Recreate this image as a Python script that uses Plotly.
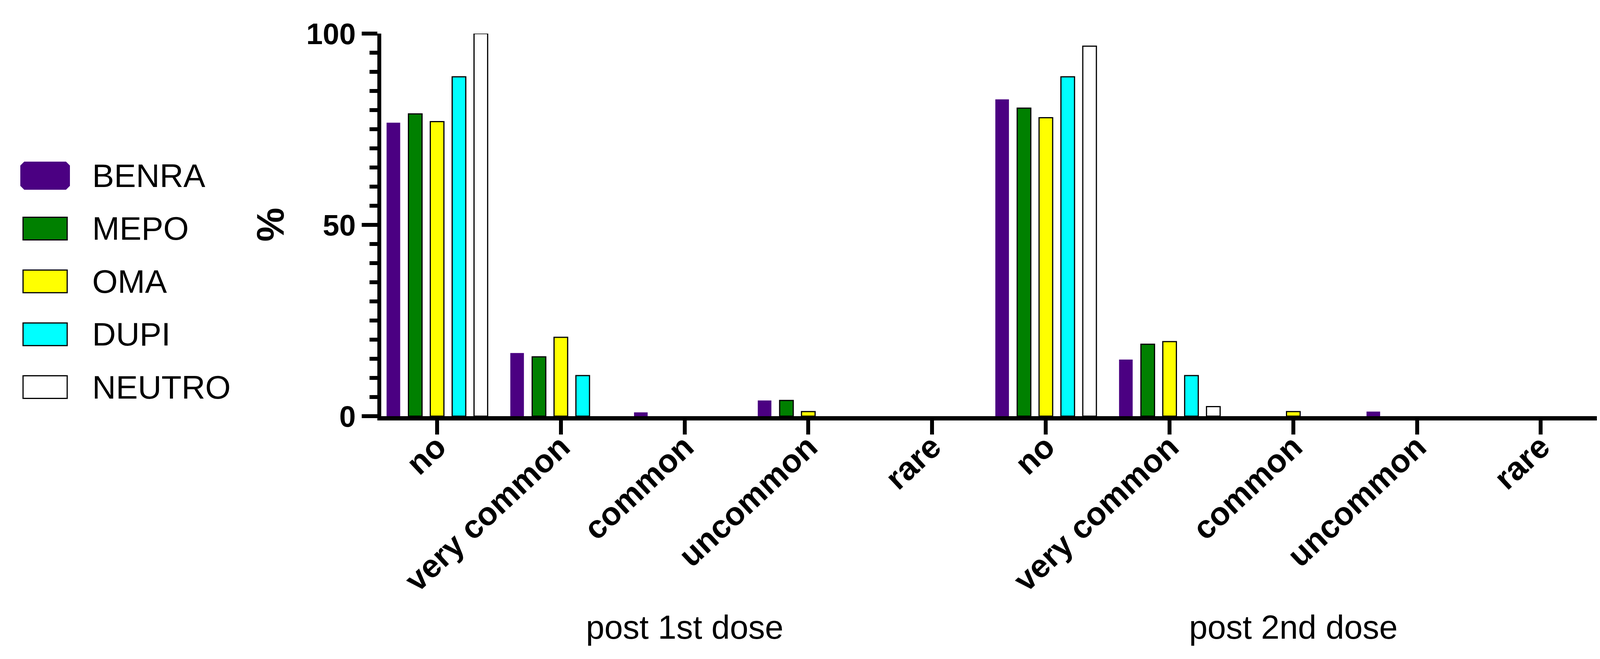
import plotly.graph_objects as go

# ---------------- data ----------------
series_names = ["BENRA", "MEPO", "OMA", "DUPI", "NEUTRO"]
series_colors = ["#4B0082", "#008000", "#FFFF00", "#00FFFF", "#FFFFFF"]
categories = ["no", "very common", "common", "uncommon", "rare"]
groups = ["post 1st dose", "post 2nd dose"]

# values: group 1 (post 1st dose) categories, then group 2 (post 2nd dose)
benra = [76.7, 16.5, 1.0, 4.1, 0, 82.8, 14.8, 0, 1.2, 0]
mepo = [79.0, 15.5, 0, 4.1, 0, 80.5, 18.8, 0, 0, 0]
oma = [77.0, 20.6, 0, 1.2, 0, 78.0, 19.5, 1.2, 0, 0]
dupi = [88.7, 10.6, 0, 0, 0, 88.7, 10.6, 0, 0, 0]
neutro = [100, 0, 0, 0, 0, 96.7, 2.5, 0, 0, 0]
series_values = [benra, mepo, oma, dupi, neutro]

# ---------------- layout constants ----------------
W, H = 4120, 1688
L, R, T, B = 968, 27, 78, 630
PW, PH = W - L - R, H - T - B
GROUP_STRIDE = 4.92
PITCH = 0.1767
BAR_W = 0.11
FONT = "Arial, Liberation Sans, sans-serif"

x_pos = [g * GROUP_STRIDE + i for g in range(len(groups)) for i in range(len(categories))]
tick_text = categories * len(groups)

fig = go.Figure()
n = len(series_names)
for k, (name, color, vals) in enumerate(zip(series_names, series_colors, series_values)):
    is_benra = name == "BENRA"
    lw = [0 if (is_benra or v == 0) else 3 for v in vals]
    fig.add_trace(go.Bar(
        x=x_pos, y=vals, name=name,
        width=BAR_W,
        offset=(k - (n - 1) / 2) * PITCH - BAR_W / 2,
        marker=dict(color=color, line=dict(color="black", width=lw)),
        showlegend=False,
    ))


def px_to_paper_x(px):
    return (px - L) / PW


def px_to_paper_y(py):
    return (H - B - py) / PH


annotations = []
shapes = []

# manual legend
for k, (name, color) in enumerate(zip(series_names, series_colors)):
    cy = 442 + k * 135.4
    if name == "BENRA":
        x0, x1, hh, c = 44, 171, 36, 10
        pts = [(x0 + c, cy - hh), (x1 - c, cy - hh), (x1, cy - hh + c), (x1, cy + hh - c),
               (x1 - c, cy + hh), (x0 + c, cy + hh), (x0, cy + hh - c), (x0, cy - hh + c)]
        path = "M " + " L ".join(f"{px_to_paper_x(a):.5f},{px_to_paper_y(b):.5f}" for a, b in pts) + " Z"
        shapes.append(dict(type="path", xref="paper", yref="paper", path=path,
                           fillcolor=color, line=dict(width=0), layer="above"))
    else:
        x0, x1, hh = 51, 164, 29
        shapes.append(dict(type="rect", xref="paper", yref="paper",
                           x0=px_to_paper_x(x0), x1=px_to_paper_x(x1),
                           y0=px_to_paper_y(cy + hh), y1=px_to_paper_y(cy - hh),
                           fillcolor=color, line=dict(color="black", width=3), layer="above"))
    annotations.append(dict(text=name, xref="paper", yref="paper",
                            x=px_to_paper_x(226), y=px_to_paper_y(cy),
                            xanchor="left", yanchor="middle", showarrow=False,
                            font=dict(family=FONT, size=84, color="black")))

# group labels
for g, glabel in enumerate(groups):
    center = g * GROUP_STRIDE + (len(categories) - 1) / 2
    annotations.append(dict(text=glabel, xref="x", yref="paper",
                            x=center, y=px_to_paper_y(1598),
                            xanchor="center", yanchor="middle", showarrow=False,
                            font=dict(family=FONT, size=85, color="black")))

# y axis title
annotations.append(dict(text="<b>%</b>", xref="paper", yref="paper",
                        x=px_to_paper_x(684), y=0.5, textangle=-90,
                        xanchor="center", yanchor="middle", showarrow=False,
                        font=dict(family=FONT, size=98, color="black")))

fig.update_layout(
    width=W, height=H,
    margin=dict(l=L, r=R, t=T, b=B, pad=0),
    paper_bgcolor="white", plot_bgcolor="white",
    barmode="group",
    showlegend=False,
    annotations=annotations,
    shapes=shapes,
    font=dict(family=FONT, color="black"),
)

fig.update_xaxes(
    range=[(968 - 1111) / 316.75, (4093 - 1111) / 316.75],
    tickmode="array", tickvals=x_pos, ticktext=tick_text,
    tickangle=-43,
    tickfont=dict(family=FONT, size=83, color="black", weight="bold"),
    ticklabelstandoff=-50,
    showline=True, linecolor="black", linewidth=11,
    ticks="outside", ticklen=36, tickwidth=10, tickcolor="black",
    showgrid=False, zeroline=False,
)

fig.update_yaxes(
    range=[0, 100],
    tickmode="array", tickvals=[0, 50, 100],
    tickfont=dict(family=FONT, size=76, color="black", weight="bold"),
    showline=True, linecolor="black", linewidth=10,
    ticks="outside", ticklen=40, tickwidth=10, tickcolor="black",
    minor=dict(dtick=5, ticks="outside", ticklen=20, tickwidth=10, tickcolor="black", showgrid=False),
    showgrid=False, zeroline=False,
)

fig.write_html("out.html")
